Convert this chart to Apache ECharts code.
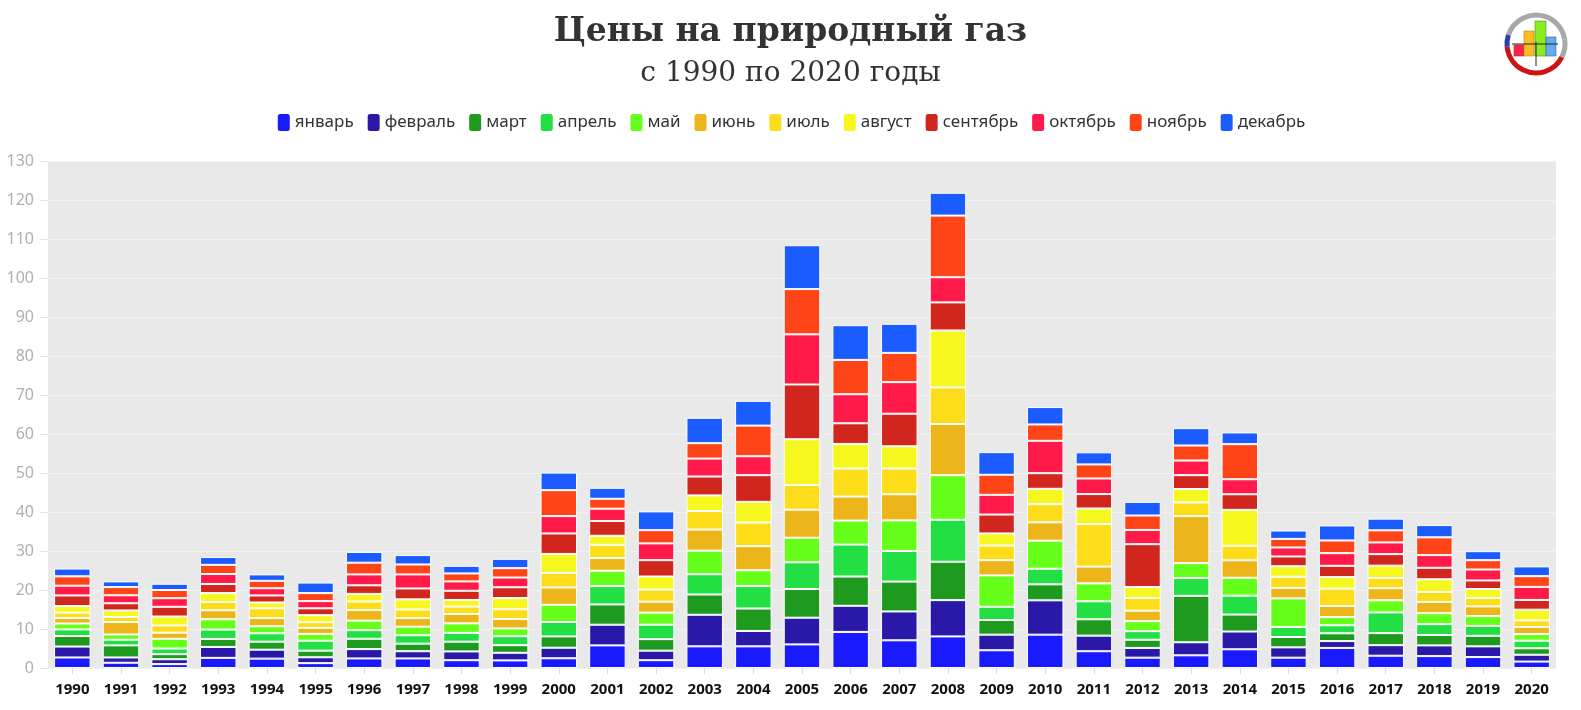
<!DOCTYPE html>
<html>
<head>
<meta charset="utf-8">
<script src="https://cdn.jsdelivr.net/npm/echarts@6/dist/echarts.min.js"></script>
<style>
html,body{margin:0;padding:0;background:#fff;}
#chart{width:1581px;height:710px;}
</style>
</head>
<body>
<div id="chart"></div>
<script>
const years = ['1990','1991','1992','1993','1994','1995','1996','1997','1998','1999','2000','2001','2002','2003','2004','2005','2006','2007','2008','2009','2010','2011','2012','2013','2014','2015','2016','2017','2018','2019','2020'];
const monthNames = ['январь','февраль','март','апрель','май','июнь','июль','август','сентябрь','октябрь','ноябрь','декабрь'];
const monthColors = ['#1a1aff','#2a18a8','#1e9a1e','#22e044','#66ff1a','#ecb51a','#fddc1a','#f5f71e','#d0261e','#ff1a4a','#ff4418','#1a5cff'];
const yTicks = [0,10,20,30,40,50,60,70,80,90,100,110,120,130];

const jan = [2.7,1.35,1.0,2.6,2.4,1.25,2.45,2.45,2.0,1.95,2.5,5.8,2.0,5.55,5.55,6.05,9.25,7.1,8.1,4.55,8.55,4.3,2.65,3.25,4.8,2.65,5.15,3.15,3.05,2.8,1.65];
const feb = [2.8,1.35,1.25,2.8,2.3,1.5,2.4,1.85,2.25,1.95,2.7,5.3,2.45,8.1,3.95,6.85,6.7,7.4,9.3,4.0,8.8,4.0,2.5,3.35,4.55,2.65,1.75,2.7,2.75,2.75,1.75];
const mar = [2.7,3.1,1.3,2.05,2.05,1.7,2.65,1.95,2.5,1.95,2.9,5.2,2.95,5.2,5.75,7.35,7.5,7.65,9.85,3.75,4.1,4.2,2.1,11.9,4.35,2.65,2.0,3.1,2.65,2.7,1.65];
const apr = [1.7,1.45,1.45,2.4,2.15,2.55,2.2,2.15,2.25,2.3,3.7,4.7,3.7,5.2,5.75,6.85,8.2,7.85,10.75,3.4,4.0,4.6,2.2,4.55,4.85,2.55,2.05,5.3,2.8,2.55,1.95];
const may = [1.5,1.35,2.5,2.65,1.8,1.75,2.45,2.2,2.45,2.0,4.4,3.95,3.1,6.05,4.05,6.3,6.15,7.85,11.45,8.05,7.2,4.6,2.55,3.85,4.6,7.35,2.1,3.1,2.8,2.5,1.7];
const jun = [1.4,3.2,1.55,2.3,2.1,1.55,2.7,2.2,2.4,2.4,4.45,3.25,2.8,5.4,6.2,7.2,6.15,6.7,13.1,3.9,4.7,4.3,2.7,12.05,4.45,2.7,2.85,3.1,2.9,2.5,1.8];
const jul = [1.4,1.3,1.85,2.15,2.5,1.45,2.2,2.2,1.9,2.5,3.75,3.4,3.1,4.75,6.05,6.3,7.2,6.6,9.4,3.75,4.65,10.9,3.25,3.5,3.75,2.85,4.45,2.65,2.55,2.15,1.7];
const aug = [1.7,1.65,2.3,2.25,1.5,1.8,1.95,2.6,1.7,2.9,4.85,2.3,3.35,4.0,5.3,11.75,6.3,5.7,14.6,3.1,3.95,4.0,2.8,3.45,9.2,2.7,2.95,3.15,3.25,2.3,2.75];
const sep = [2.7,1.85,2.5,2.35,1.8,1.75,2.2,2.8,2.35,2.75,5.25,3.8,4.2,4.85,6.85,14.05,5.3,8.35,7.2,4.85,4.0,3.7,11.0,3.55,4.0,2.5,2.9,2.95,2.95,2.2,2.5];
const oct = [2.5,2.05,2.2,2.55,1.85,1.85,2.8,3.6,2.4,2.5,4.45,3.15,4.3,4.6,4.85,12.85,7.45,8.1,6.45,5.05,8.3,4.0,3.65,3.75,3.85,2.3,3.25,3.0,3.25,2.8,3.35];
const nov = [2.4,2.1,2.1,2.35,1.9,2.05,3.0,2.55,2.05,2.4,6.65,2.55,3.4,3.95,7.85,11.6,8.8,7.5,15.8,5.15,4.2,3.6,3.7,3.85,9.0,2.2,3.25,3.1,4.55,2.4,2.75];
const dec = [2.0,1.45,1.6,2.0,1.65,2.7,2.75,2.4,1.95,2.4,4.5,2.8,4.8,6.5,6.35,11.25,8.9,7.45,5.85,5.8,4.45,3.1,3.5,4.45,3.0,2.15,3.85,3.0,3.15,2.3,2.5];

const monthData = [jan,feb,mar,apr,may,jun,jul,aug,sep,oct,nov,dec];

const chart = echarts.init(document.getElementById('chart'), null, {renderer:'canvas'});

const series = monthNames.map((name, i) => ({
  name: name,
  type: 'bar',
  stack: 'total',
  barWidth: '75%',
  data: monthData[i],
  itemStyle: { color: monthColors[i], borderColor: '#ffffff', borderWidth: 1 },
  emphasis: { disabled: true }
}));

const LX = 1536, LY = 44;
const R = 29;
const option = {
  animation: false,
  backgroundColor: '#ffffff',
  title: [
    { text: 'Цены на природный газ', left: 'center', top: 11,
      textStyle: { fontFamily: 'DejaVu Serif', fontWeight: 'bold', fontSize: 33, color: '#333' } },
    { text: 'с 1990 по 2020 годы', left: 'center', top: 55,
      textStyle: { fontFamily: 'DejaVu Serif', fontWeight: 'normal', fontSize: 28, color: '#333' } }
  ],
  legend: {
    top: 107, left: 'center',
    icon: 'roundRect', itemWidth: 14, itemHeight: 19, itemGap: 12,
    textStyle: { fontFamily: 'Noto Sans', fontSize: 17, color: '#333', padding: [0,0,0,-1] },
    data: monthNames
  },
  grid: { left: 48, right: 25, top: 161, bottom: 42, show: true, backgroundColor: '#e9e9e9', borderWidth: 0 },
  xAxis: {
    type: 'category', data: years,
    axisLine: { show: false },
    axisTick: { show: true, alignWithLabel: true, length: 6, lineStyle: { color: '#dcdcdc' } },
    axisLabel: { fontFamily: 'Noto Sans', fontWeight: 'bold', fontSize: 15, color: '#111', margin: 14 }
  },
  yAxis: {
    type: 'value', min: yTicks[0], max: yTicks[yTicks.length-1], interval: 10,
    axisLine: { show: false },
    axisTick: { show: true, length: 8, lineStyle: { color: '#e4e4e4' } },
    axisLabel: { fontFamily: 'Noto Sans', fontSize: 16, color: '#b0b0b0', margin: 14 },
    splitLine: { show: true, lineStyle: { color: '#f1f1f1', width: 1 } }
  },
  series: series,
  graphic: [
    { type: 'circle', shape: { cx: LX, cy: LY, r: R }, style: { fill: '#ffffff' }, silent: true },
    { type: 'arc', shape: { cx: LX, cy: LY, r: R, startAngle: Math.PI*1.1, endAngle: Math.PI*1.95 }, style: { stroke: '#a8a8a8', lineWidth: 5, fill: null }, silent: true },
    { type: 'arc', shape: { cx: LX, cy: LY, r: R, startAngle: -Math.PI*0.05, endAngle: Math.PI*0.15 }, style: { stroke: '#a8a8a8', lineWidth: 5, fill: null }, silent: true },
    { type: 'arc', shape: { cx: LX, cy: LY, r: R, startAngle: Math.PI*0.15, endAngle: Math.PI*0.97 }, style: { stroke: '#cc1616', lineWidth: 5, fill: null }, silent: true },
    { type: 'arc', shape: { cx: LX, cy: LY, r: R, startAngle: Math.PI*0.97, endAngle: Math.PI*1.1 }, style: { stroke: '#2b3fb0', lineWidth: 5, fill: null }, silent: true },
    { type: 'rect', shape: { x: LX-22, y: LY+1, width: 10, height: 11 }, style: { fill: '#ff2244', stroke: '#aa3333', lineWidth: 0.6 }, silent: true },
    { type: 'rect', shape: { x: LX-12, y: LY-13, width: 10, height: 25 }, style: { fill: '#ffbb22', stroke: '#aa8822', lineWidth: 0.6 }, silent: true },
    { type: 'rect', shape: { x: LX-1, y: LY-23, width: 11, height: 35 }, style: { fill: '#88ee22', stroke: '#558822', lineWidth: 0.6 }, silent: true },
    { type: 'rect', shape: { x: LX+10, y: LY-7, width: 10, height: 19 }, style: { fill: '#66aaee', stroke: '#336699', lineWidth: 0.6 }, silent: true },
    { type: 'line', shape: { x1: LX-24, y1: LY, x2: LX+22, y2: LY }, style: { stroke: '#222', lineWidth: 1 }, silent: true },
    { type: 'line', shape: { x1: LX, y1: LY-2, x2: LX, y2: LY+22 }, style: { stroke: '#222', lineWidth: 1 }, silent: true }
  ]
};
chart.setOption(option);
</script>
</body>
</html>
